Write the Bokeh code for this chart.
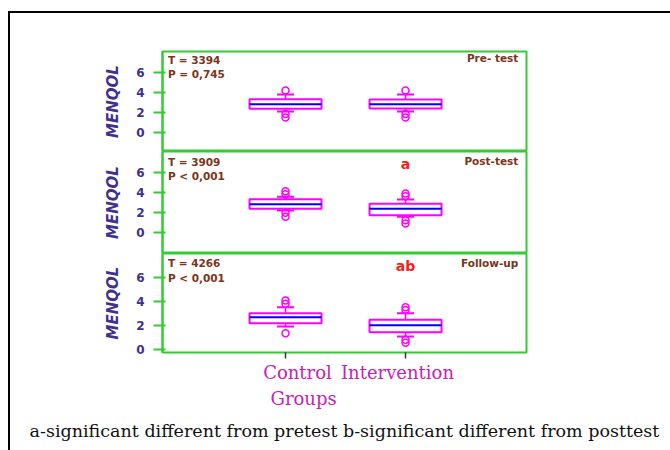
from bokeh.plotting import figure
from bokeh.layouts import column
from bokeh.models import (Range1d, FixedTicker, LinearAxis, Title, Label,
                          ColumnDataSource, Whisker, TeeHead)
from bokeh.embed import file_html
from bokeh.resources import INLINE

# ---------------- data ----------------
groups = ["Control", "Intervention"]
group_pos = [1, 2]
phases = ["Pre- test", "Post-test", "Follow-up"]
t_stats = ["T = 3394", "T = 3909", "T = 4266"]
p_vals = ["P = 0,745", "P < 0,001", "P < 0,001"]
sig_marks = ["", "a", "ab"]
y_ticks = [0, 2, 4, 6]

q1 = [[2.33, 2.35], [2.37, 1.73], [2.20, 1.45]]
median = [[2.77, 2.77], [2.83, 2.37], [2.70, 2.03]]
q3 = [[3.27, 3.25], [3.33, 2.87], [3.02, 2.48]]
lower = [[2.05, 2.05], [2.20, 1.57], [1.93, 1.10]]
upper = [[3.75, 3.75], [3.57, 3.30], [3.52, 3.02]]
outliers = [
    [[4.15, 1.80, 1.45], [4.15, 1.80, 1.45]],
    [[4.13, 3.83, 1.97, 1.57], [3.90, 3.63, 1.23, 0.90]],
    [[4.07, 3.80, 1.37], [3.52, 3.30, 0.83, 0.58]],
]

# ---------------- styles ----------------
MAG = "#ff00ff"
MED = "#0000ff"
GREEN = "#33cc33"
AXC = "#40308f"
TXT = "#7a3520"
BOXW = 0.6
Y_RANGES = [(-1.95, 8.05), (-2.1, 8.1), (-0.22, 7.96)]
FRAME_H = [100, 102, 99]
TEXT_Y = [(7.25, 5.85, 7.45), (7.07, 5.67, 7.13), (7.2, 5.97, 7.2)]
SIG_Y = [6.9, 6.9, 6.95]


def make_panel(i):
    last = i == 2
    p = figure(frame_width=364, frame_height=FRAME_H[i],
               x_range=Range1d(-0.025, 3.008), y_range=Range1d(*Y_RANGES[i]),
               output_backend="svg", toolbar_location=None,
               x_axis_location="below" if last else None,
               min_border_left=152, min_border_right=144,
               min_border_top=38 if i == 0 else 0,
               min_border_bottom=96 if last else 0,
               background_fill_color="white", border_fill_color="white")
    p.xgrid.visible = False
    p.ygrid.visible = False
    p.outline_line_color = GREEN
    p.outline_line_width = 2

    ax = p.yaxis[0]
    ax.ticker = FixedTicker(ticks=y_ticks)
    ax.axis_label = "MENQOL"
    ax.axis_label_text_font = "DejaVu Sans"
    ax.axis_label_text_font_style = "bold italic"
    ax.axis_label_text_font_size = "15px"
    ax.axis_label_text_color = AXC
    ax.axis_label_standoff = 11
    ax.axis_line_color = GREEN
    ax.axis_line_width = 2
    ax.major_tick_line_color = GREEN
    ax.major_tick_line_width = 2
    ax.major_tick_out = 9
    ax.major_tick_in = 3
    ax.minor_tick_line_color = None
    ax.major_label_text_font = "DejaVu Sans"
    ax.major_label_text_font_style = "bold"
    ax.major_label_text_font_size = "12px"
    ax.major_label_text_color = AXC
    ax.major_label_standoff = 9

    src = ColumnDataSource(dict(
        x=group_pos, q1=q1[i], q3=q3[i], med=median[i],
        lo=lower[i], up=upper[i],
        x0=[g - BOXW / 2 for g in group_pos],
        x1=[g + BOXW / 2 for g in group_pos]))

    # whiskers
    p.add_layout(Whisker(base="x", upper="up", lower="q3", source=src,
                         line_color=MAG, line_width=1.5, lower_head=None,
                         upper_head=TeeHead(size=17, line_color=MAG, line_width=2)))
    p.add_layout(Whisker(base="x", upper="q1", lower="lo", source=src,
                         line_color=MAG, line_width=1.5, upper_head=None,
                         lower_head=TeeHead(size=17, line_color=MAG, line_width=2)))
    # boxes
    p.vbar(x="x", width=BOXW, top="q3", bottom="q1", source=src,
           fill_color="white", line_color=MAG, line_width=2)
    p.segment(x0="x0", y0="med", x1="x1", y1="med", source=src,
              line_color=MED, line_width=2)
    # outliers
    ox, oy = [], []
    for g, vals in zip(group_pos, outliers[i]):
        ox += [g] * len(vals)
        oy += vals
    p.scatter(ox, oy, marker="circle", size=7, fill_color=None,
              line_color=MAG, line_width=1.5)

    ty, py, ly = TEXT_Y[i]
    for txt, yy, xx, al in ((t_stats[i], ty, 0.02, "left"),
                            (p_vals[i], py, 0.02, "left"),
                            (phases[i], ly, 2.94, "right")):
        p.add_layout(Label(x=xx, y=yy, text=txt, text_baseline="middle",
                           text_align=al, text_font="DejaVu Sans",
                           text_font_size="10.5px", text_font_style="bold",
                           text_color=TXT))
    if sig_marks[i]:
        p.add_layout(Label(x=group_pos[1], y=SIG_Y[i], text=sig_marks[i],
                           text_baseline="middle", text_align="center",
                           text_font="DejaVu Sans", text_font_size="14px",
                           text_font_style="bold", text_color="#ff1a1a"))

    if last:
        xa = p.xaxis[0]
        xa.ticker = FixedTicker(ticks=group_pos)
        xa.major_label_text_font_size = "1px"
        xa.major_label_text_color = None
        xa.major_label_standoff = 0
        xa.major_tick_out = 6
        xa.major_tick_in = 0
        xa.major_tick_line_color = "#333333"
        xa.major_tick_line_width = 1.5
        xa.minor_tick_line_color = None
        xa.axis_line_color = None

        p.extra_x_ranges = {"lab": Range1d(-0.35, 3.29)}
        lab = LinearAxis(x_range_name="lab", ticker=FixedTicker(ticks=group_pos),
                         major_label_overrides={g: n for g, n in zip(group_pos, groups)},
                         major_tick_line_color=None, minor_tick_line_color=None,
                         axis_line_color=None, major_label_standoff=-3,
                         major_label_text_font="DejaVu Serif",
                         major_label_text_font_size="18px",
                         major_label_text_color="#c822b0")
        p.add_layout(lab, "below")
        p.add_layout(Title(text="Groups", align="left", offset=108,
                           text_font="DejaVu Serif", text_font_size="18px",
                           text_font_style="normal", text_color="#c822b0",
                           standoff=0), "below")
        p.add_layout(Title(text="a-significant different from pretest b-significant different from posttest",
                           align="center", text_font="DejaVu Serif",
                           text_font_size="17.5px", text_font_style="normal",
                           text_color="#111111", standoff=20), "below")
    return p


panels = [make_panel(i) for i in range(3)]
layout = column(*panels, margin=(11, 0, 0, 8), spacing=0,
                styles={"border-left": "2px solid black",
                        "border-top": "2px solid black"})

open("out.html", "w").write(file_html(layout, INLINE))
